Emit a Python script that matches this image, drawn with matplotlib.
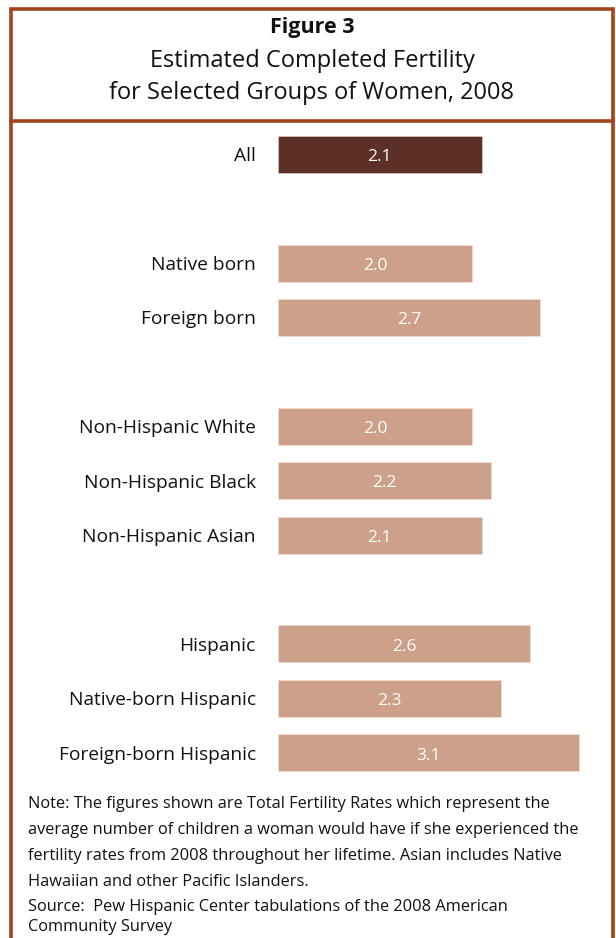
# completed fertility by group horizontal bars inside a framed panel
# comments are lowercase no punctuation

import matplotlib
matplotlib.use("Agg")
import matplotlib.pyplot as plt
from matplotlib.patches import Rectangle
from matplotlib.lines import Line2D

plt.rcParams["font.family"] = ["Open Sans", "DejaVu Sans"]

groups = ["All",
          "Native born", "Foreign born",
          "Non-Hispanic White", "Non-Hispanic Black", "Non-Hispanic Asian",
          "Hispanic", "Native-born Hispanic", "Foreign-born Hispanic"]
rates = [2.1, 2.0, 2.7, 2.0, 2.2, 2.1, 2.6, 2.3, 3.1]
# row slots leave an empty slot between each block of groups
slots = [0, 2, 3, 5, 6, 7, 9, 10, 11]

title_lines = ["Figure 3",
               "Estimated Completed Fertility",
               "for Selected Groups of Women, 2008"]
note_lines = ["Note: The figures shown are Total Fertility Rates which represent the",
              "average number of children a woman would have if she experienced the",
              "fertility rates from 2008 throughout her lifetime. Asian includes Native",
              "Hawaiian and other Pacific Islanders."]
source_lines = ["Source:  Pew Hispanic Center tabulations of the 2008 American",
                "Community Survey"]

W, H = 616, 938
DARK = "#5c3026"
LIGHT = "#cda089"
FRAME = "#a3431b"

fig = plt.figure(figsize=(W / 100, H / 100), dpi=100)


def px(x, y):
    # pixel coords from the top left to figure fraction
    return x / W, 1 - y / H


# frame and header rule
x0, y0 = px(11, 9)
x1, y1 = px(613, 960)
fig.patches.append(Rectangle((x0, y1), x1 - x0, y0 - y1, transform=fig.transFigure,
                             fill=False, edgecolor=FRAME, linewidth=2.6, zorder=0))
_, yh = px(0, 121)
fig.add_artist(Line2D([x0, x1], [yh, yh], transform=fig.transFigure,
                      color=FRAME, linewidth=2.6))

# header text
for i, (line, yy) in enumerate(zip(title_lines, [28, 61, 93])):
    fx, fy = px(312, yy)
    fig.text(fx, fy, line, ha="center", va="center",
             fontsize=15.5 if i == 0 else 17,
             fontweight="bold" if i == 0 else "normal", color="#111111")

# bar panel
left, top, right, bottom = 278, 127, 613, 780
ax = fig.add_axes([left / W, 1 - bottom / H, (right - left) / W, (bottom - top) / H])
ax.barh(slots, rates, height=0.68, left=0,
        color=[DARK] + [LIGHT] * (len(rates) - 1),
        edgecolor=["#d9c2b8"] + ["#f1dccf"] * (len(rates) - 1), linewidth=0.6)
for s, v in zip(slots, rates):
    ax.text(v / 2, s + 0.05, f"{v:.1f}", ha="center", va="center",
            color="white", fontsize=12.5)

ax.set_xlim(0, (right - left) / 97)
ax.set_ylim(11.5, -0.5)
ax.set_yticks(slots)
ax.set_yticklabels(groups, fontsize=13.8, color="#111111")
ax.tick_params(axis="y", length=0, pad=16)
ax.set_xticks([])
for sp in ax.spines.values():
    sp.set_visible(False)
ax.patch.set_alpha(0)

# note and source
for line, yy in zip(note_lines + source_lines, [804, 830, 856, 882, 907, 927]):
    fx, fy = px(28, yy)
    fig.text(fx, fy, line, ha="left", va="center", fontsize=11.8, color="#111111")

fig.savefig("out.png", dpi=100, facecolor="white")
